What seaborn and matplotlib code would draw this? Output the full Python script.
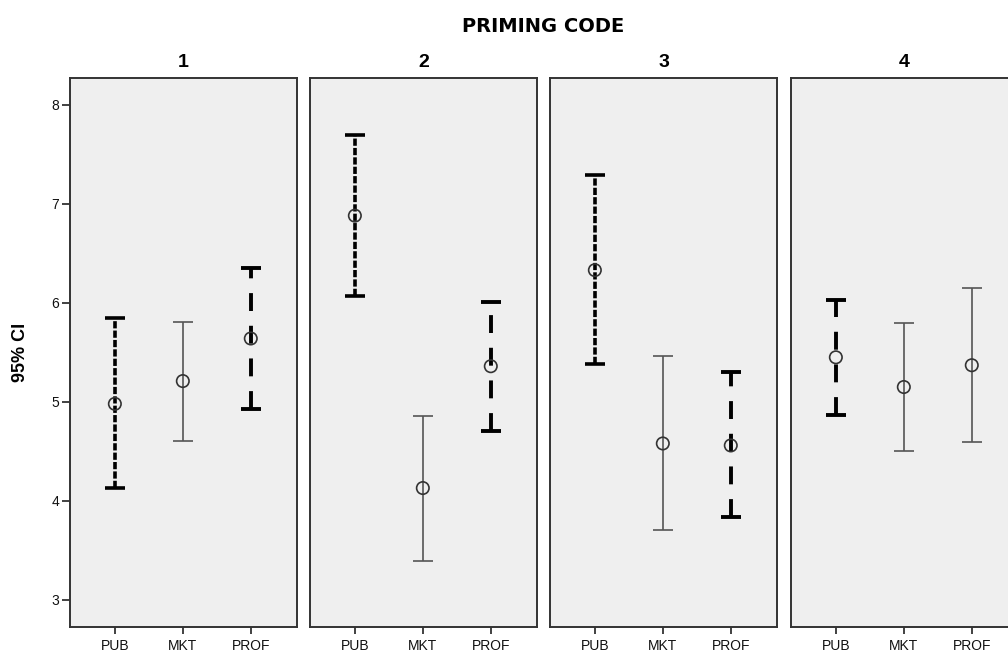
import matplotlib
matplotlib.use("Agg")
import matplotlib.pyplot as plt
import seaborn as sns
import pandas as pd

panels = ["1", "2", "3", "4"]
groups = ["PUB", "MKT", "PROF"]
means = [[4.98, 5.21, 5.64], [6.88, 4.13, 5.36], [6.33, 4.58, 4.56], [5.45, 5.15, 5.37]]
lowers = [[4.13, 4.60, 4.93], [6.07, 3.39, 4.71], [5.38, 3.71, 3.84], [4.87, 4.50, 4.59]]
uppers = [[5.85, 5.81, 6.35], [7.69, 4.86, 6.01], [7.29, 5.46, 5.30], [6.03, 5.80, 6.15]]
styles = [["dense", "solid", "long"], ["dense", "solid", "long"],
          ["dense", "solid", "long"], ["long", "solid", "solid"]]
y_ticks = [3, 4, 5, 6, 7, 8]

sns.set_theme(style="white")
plt.rcParams['font.family'] = ['Liberation Sans', 'DejaVu Sans']
plt.rcParams['text.color'] = 'black'
plt.rcParams['axes.labelcolor'] = 'black'

fig = plt.figure(figsize=(10.08, 6.53), dpi=100)
lefts = [70, 310, 550, 791]
W, H = 1008, 653
ax_w = 227
top_px, bot_px = 78, 627

style_map = {
    "dense": dict(ls=(0, (2.0, 0.6)), lw=2.6, color="black", capthick=2.6),
    "long": dict(ls=(0, (4.6, 3.8)), lw=2.8, color="black", capthick=2.8),
    "solid": dict(ls="-", lw=1.2, color="#555555", capthick=1.2),
}

for pi, p in enumerate(panels):
    ax = fig.add_axes([lefts[pi] / W, 1 - bot_px / H, ax_w / W, (bot_px - top_px) / H])
    ax.set_facecolor("#efefef")
    df = pd.DataFrame({"group": groups, "mean": means[pi],
                       "lo": lowers[pi], "hi": uppers[pi], "st": styles[pi]})
    for i, row in df.iterrows():
        s = style_map[row["st"]]
        eb = ax.errorbar([i], [row["mean"]],
                         yerr=[[row["mean"] - row["lo"]], [row["hi"] - row["mean"]]],
                         fmt="none", ecolor=s["color"], elinewidth=s["lw"],
                         capsize=7.2, capthick=s["capthick"], zorder=2)
        eb[2][0].set_linestyle(s["ls"])
    sns.scatterplot(data=df, x="group", y="mean", ax=ax, marker="o", s=80,
                    facecolor="none", edgecolor="#333333", linewidth=1.2, zorder=3)
    ax.set_xlim(-0.66, 2.68)
    ax.set_ylim(2.727, 8.27)
    ax.set_xticks(range(3))
    ax.set_xticklabels(groups, fontsize=10, color="#111111")
    ax.set_xlabel("")
    ax.set_ylabel("")
    ax.tick_params(axis="x", direction="out", length=5, width=1.3, color="#333333", pad=4, bottom=True)
    if pi == 0:
        ax.set_yticks(y_ticks)
        ax.set_yticklabels([str(t) for t in y_ticks], fontsize=10, color="#111111")
        ax.tick_params(axis="y", direction="out", length=6, width=1.3, color="#333333", pad=2, left=True)
        ax.set_ylabel("95% CI", fontsize=13, fontweight="bold", labelpad=16, color="black")
    else:
        ax.set_yticks([])
    for sp in ax.spines.values():
        sp.set_color("#333333")
        sp.set_linewidth(1.4)
    ax.set_title(p, fontsize=14, fontweight="bold", pad=8, color="black")

fig.text(543 / W, 1 - 27 / H, "PRIMING CODE", ha="center", va="center",
         fontsize=14, fontweight="bold", family=["DejaVu Sans"], color="black")

fig.savefig("out.png", dpi=100)
